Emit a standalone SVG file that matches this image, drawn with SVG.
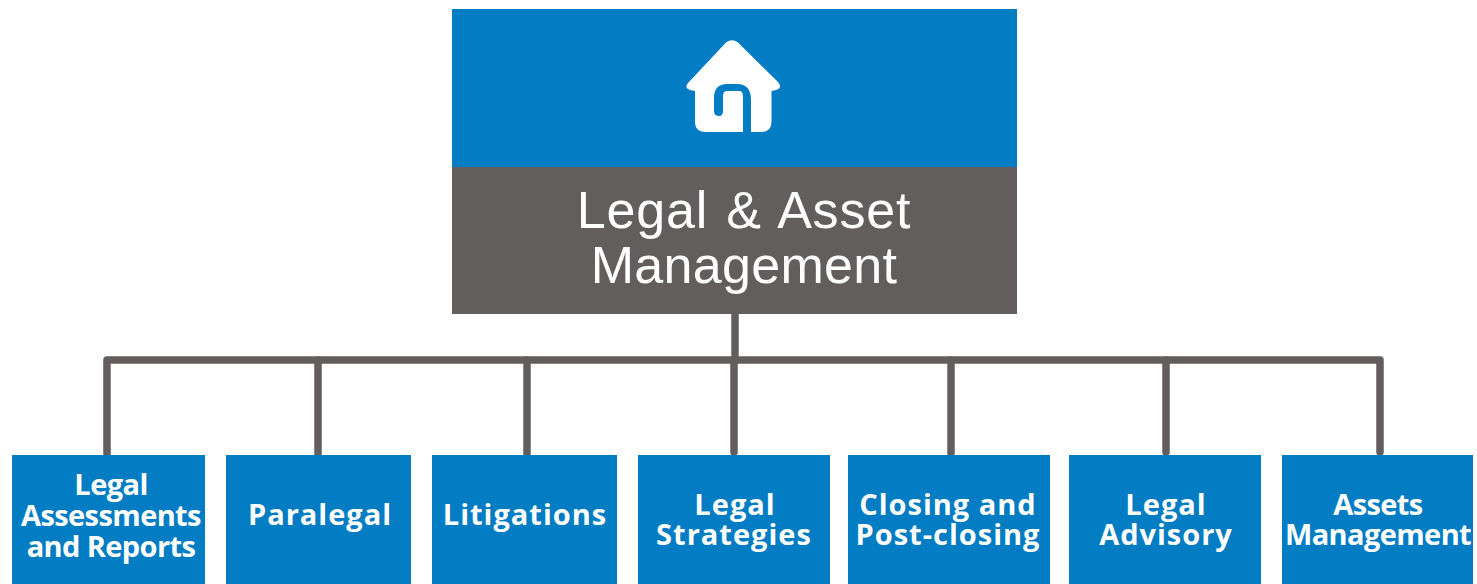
<svg xmlns="http://www.w3.org/2000/svg" width="1477" height="584" viewBox="0 0 1477 584">
<style>
.blue{fill:#027cc3}
.grey{fill:#625e5d}
.lbl{font-family:"Open Sans","DejaVu Sans",sans-serif;font-weight:700;font-size:29px;fill:#fff;text-anchor:middle}
.tight{letter-spacing:-.6px}
.wide{letter-spacing:1px}
.ttl{font-family:"Liberation Sans",Arial,sans-serif;font-size:52px;fill:#fff;text-anchor:middle}
.conn{fill:none;stroke:#625e5d;stroke-width:7.500;stroke-linecap:round;stroke-linejoin:round}
</style>
<rect width="1477" height="584" fill="#fff"/>
<g id="connectors" class="conn">
<path d="M735 314V360"/>
<path d="M107 455V360H1380V452"/>
<path d="M318 456V360"/>
<path d="M527 455V360"/>
<path d="M734 452V360"/>
<path d="M951 453V360"/>
<path d="M1166 452V360"/>
</g>
<g id="root">
<rect class="blue" x="452" y="9" width="565" height="158"/>
<rect class="grey" x="452" y="167" width="565" height="147"/>
<path fill="#fff" d="M726 42.500Q732 38 738 42.500L778 82Q783 88 776 90L771.500 91V122Q771.500 132 761 132H751V100Q751 84 737 84H727Q714 84 714 98V111Q714 116 719 116Q723 116 723 111V96Q723 91 727 91H739Q743 91 743 96V132H706Q695 132 695 122V91L690 90Q684 88 688 83Z"/>
<text class="ttl" x="744" y="228" style="letter-spacing:.8px;word-spacing:3px">Legal &amp; Asset</text>
<text class="ttl" x="744" y="283" style="letter-spacing:.3px">Management</text>
</g>
<g id="n1"><rect class="blue" x="12" y="455" width="193" height="129"/>
<text class="lbl tight" x="111" y="495">Legal</text>
<text class="lbl tight" x="111" y="526">Assessments</text>
<text class="lbl tight" x="111" y="557">and Reports</text></g>
<g id="n2"><rect class="blue" x="226" y="455" width="185" height="129"/>
<text class="lbl wide" x="320" y="525">Paralegal</text></g>
<g id="n3"><rect class="blue" x="432" y="455" width="185" height="129"/>
<text class="lbl wide" x="525" y="525">Litigations</text></g>
<g id="n4"><rect class="blue" x="638" y="455" width="192" height="129"/>
<text class="lbl wide" x="735" y="515">Legal</text>
<text class="lbl wide" x="734" y="545">Strategies</text></g>
<g id="n5"><rect class="blue" x="848" y="455" width="202" height="129"/>
<text class="lbl wide" x="948" y="515">Closing and</text>
<text class="lbl wide" x="948" y="545">Post-closing</text></g>
<g id="n6"><rect class="blue" x="1069" y="455" width="192" height="129"/>
<text class="lbl wide" x="1166" y="515">Legal</text>
<text class="lbl wide" x="1166" y="545">Advisory</text></g>
<g id="n7"><rect class="blue" x="1282" y="455" width="191" height="129"/>
<text class="lbl tight" x="1378" y="515">Assets</text>
<text class="lbl tight" x="1378" y="545">Management</text></g>
</svg>
